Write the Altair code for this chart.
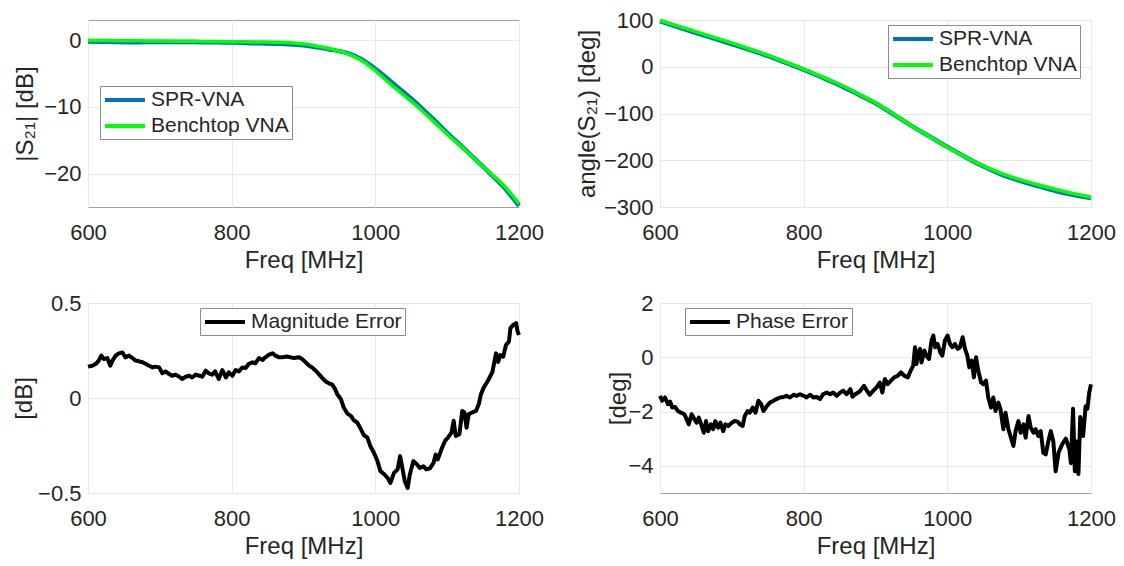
import altair as alt
import pandas as pd

FONT = "Liberation Sans"
TXT = "#262626"

# ---------------- data ----------------
mag_freq = [600, 620, 640, 660, 680, 700, 720, 740, 760, 780, 800, 820, 840, 860, 880,
            900, 910, 920, 930, 940, 950, 960, 970, 980, 990, 1000, 1020, 1040, 1060, 1080,
            1100, 1120, 1140, 1160, 1180, 1200]
mag_bench = [-0.05, -0.07, -0.09, -0.11, -0.13, -0.15, -0.17, -0.19, -0.21, -0.23, -0.25,
             -0.27, -0.29, -0.32, -0.4, -0.6, -0.75, -0.95, -1.15, -1.4, -1.65, -2.0, -2.45,
             -3.0, -3.75, -4.6, -6.5, -8.3, -10.1, -12.1, -14.1, -16.0, -18.0, -19.9, -21.9,
             -24.5]
mag_spr = [-0.22, -0.27, -0.31, -0.32, -0.31, -0.31, -0.29, -0.3, -0.33, -0.35, -0.37,
           -0.43, -0.49, -0.55, -0.62, -0.79, -0.92, -1.08, -1.26, -1.47, -1.66, -1.92, -2.33,
           -2.84, -3.54, -4.3, -6.07, -7.86, -9.74, -11.78, -13.89, -15.9, -17.95, -20.0,
           -22.17, -24.83]

phase_freq = [600, 625, 650, 675, 700, 725, 750, 775, 800, 825, 850, 875, 900, 925, 950,
              975, 1000, 1025, 1050, 1075, 1100, 1125, 1150, 1175, 1200]
phase_bench = [99, 87, 75, 63, 51, 38, 25, 10, -5, -21, -38, -57, -77, -101, -126, -149,
               -172, -193, -212, -228, -241, -252, -262, -271, -279]
phase_spr = [97.6, 85, 72.6, 60.5, 48.6, 36, 23.4, 8.6, -6.4, -22.4, -39.3, -58.3, -78.1,
             -101.7, -126.5, -148.9, -171.4, -192.9, -213, -230.3, -243.5, -254.7, -265.5,
             -274, -281]

magerr_freq = [600, 606, 611, 615, 618.5, 622, 627, 631, 634, 638.5, 643, 648, 652, 657, 662,
               666, 671, 676, 680, 685, 690, 694, 699, 703.5, 708, 713, 717, 722, 727, 731,
               736, 741, 745, 750, 755, 759, 764, 768, 773, 777, 782, 787, 792, 796, 801,
               805.5, 810, 815, 819.5, 824, 829, 833, 838, 843, 847, 852, 857, 861, 866, 870,
               877, 887, 894, 898, 903, 908, 912, 917, 922, 926, 931, 935.5, 940, 944, 947,
               952, 956, 961, 966, 970, 975, 980, 984, 989, 993, 998, 1003, 1007, 1012, 1017,
               1021, 1026, 1031, 1034.5, 1038, 1041, 1045, 1048, 1053, 1058, 1062, 1067, 1071,
               1076, 1081, 1084, 1087, 1092, 1097, 1101, 1106, 1109, 1112, 1117, 1121, 1124,
               1127, 1130, 1135, 1140, 1144, 1147, 1151, 1155, 1158, 1163, 1168, 1171, 1174,
               1178, 1182, 1186, 1188, 1192, 1196, 1198, 1200]
magerr_val = [0.165, 0.17, 0.18, 0.197, 0.223, 0.205, 0.21, 0.17, 0.197, 0.223, 0.235, 0.24,
              0.214, 0.223, 0.21, 0.197, 0.193, 0.188, 0.18, 0.17, 0.161, 0.165, 0.161, 0.13,
              0.14, 0.126, 0.117, 0.123, 0.112, 0.1, 0.112, 0.117, 0.108, 0.123, 0.117, 0.112,
              0.144, 0.13, 0.123, 0.14, 0.1, 0.147, 0.108, 0.135, 0.117, 0.147, 0.14, 0.161,
              0.158, 0.18, 0.188, 0.183, 0.21, 0.2, 0.214, 0.228, 0.235, 0.223, 0.214, 0.215,
              0.218, 0.21, 0.214, 0.205, 0.188, 0.17, 0.161, 0.144, 0.123, 0.105, 0.087, 0.077,
              0.07, 0.047, 0.02, -0.006, -0.05, -0.082, -0.094, -0.117, -0.13, -0.165, -0.195,
              -0.209, -0.253, -0.288, -0.332, -0.385, -0.4, -0.42, -0.447, -0.394, -0.376,
              -0.306, -0.376, -0.438, -0.473, -0.403, -0.332, -0.35, -0.368, -0.359, -0.376,
              -0.37, -0.341, -0.297, -0.323, -0.27, -0.226, -0.209, -0.182, -0.12, -0.2,
              -0.191, -0.068, -0.076, -0.156, -0.085, -0.076, -0.068, -0.033, 0.02, 0.056,
              0.08, 0.1, 0.138, 0.235, 0.19, 0.226, 0.217, 0.28, 0.297, 0.367, 0.385, 0.394,
              0.35, 0.332]

pherr_freq = [600, 603, 607, 611, 614, 617, 621, 625, 629, 634, 637, 640, 644, 648, 651, 654,
              658, 661, 664, 667, 671, 674, 677, 681, 684, 688, 691, 695, 700, 704, 708, 711,
              715, 718, 722, 725, 729, 733, 737, 741, 744, 749, 753, 758, 762, 767, 772, 776,
              781, 786, 790, 795, 800, 804, 809, 813.5, 818, 823, 827, 832, 837, 841, 846, 851,
              855, 860, 865, 868, 872, 878, 884, 888, 892, 897, 901.5, 906, 909.5, 913, 917,
              921.5, 926, 931, 935.5, 940, 945, 949, 952.5, 955, 957, 959.5, 962, 964, 968, 971,
              974.5, 978, 980.5, 983, 986.5, 990, 993, 996.7, 1000.4, 1003.7, 1007, 1010.6,
              1014.4, 1017.6, 1021.3, 1024.6, 1027.8, 1030.6, 1034, 1037, 1040, 1043, 1047, 1050,
              1053.8, 1057, 1060.8, 1064, 1067, 1071, 1074, 1078, 1081, 1085, 1088.6, 1092, 1095,
              1099, 1102, 1106, 1109, 1113, 1116, 1120, 1123, 1126.6, 1130, 1133.6, 1137, 1140.6,
              1144, 1147.5, 1150.8, 1155, 1160, 1165, 1170, 1172, 1175, 1177.5, 1180, 1182.5,
              1185, 1189, 1192.5, 1195, 1197.5, 1200]
pherr_val = [-1.42, -1.6, -1.48, -1.73, -1.63, -1.85, -1.83, -1.98, -2.04, -2.1, -2.28, -2.47,
             -2.1, -2.28, -2.41, -2.22, -2.53, -2.78, -2.35, -2.72, -2.47, -2.65, -2.35, -2.59,
             -2.41, -2.72, -2.47, -2.53, -2.41, -2.35, -2.37, -2.47, -2.53, -2.16, -1.98, -2.04,
             -1.85, -2.04, -1.6, -1.73, -1.98, -1.79, -1.67, -1.6, -1.54, -1.48, -1.46, -1.42,
             -1.48, -1.38, -1.42, -1.36, -1.42, -1.48, -1.38, -1.48, -1.46, -1.54, -1.36, -1.3,
             -1.36, -1.3, -1.42, -1.3, -1.23, -1.36, -1.17, -1.45, -1.36, -1.26, -1.05, -1.23,
             -1.38, -1.23, -1.11, -0.93, -1.3, -0.8, -0.99, -0.86, -0.74, -0.68, -0.56, -0.68,
             -0.74, -0.49, -0.31, 0.37, -0.25, 0.19, 0.31, -0.19, 0.25, 0.06, -0.06, 0.62, 0.8,
             0.37, 0.49, 0.19, 0.06, 0.62, 0.8, 0.49, 0.37, 0.49, 0.31, 0.37, 0.74, 0.31, 0.06,
             -0.37, -0.12, -0.74, 0.0, -0.49, -0.93, -0.99, -0.86, -1.48, -1.85, -1.48, -1.98,
             -1.67, -1.91, -2.65, -2.04, -2.65, -2.96, -3.27, -2.72, -2.35, -2.78, -2.47, -2.96,
             -2.16, -2.59, -2.78, -2.65, -2.9, -2.72, -3.52, -3.58, -3.09, -2.72, -3.09, -4.2,
             -3.5, -3.2, -3.0, -3.4, -3.9, -1.9, -4.2, -3.1, -4.3, -2.2, -2.9, -1.8, -1.9, -1.3,
             -1.0]

freq_ticks = [600, 800, 1000, 1200]
SERIES = ["SPR-VNA", "Benchtop VNA"]
COLORS = ["#0072BD", "#00FF00"]

W, H_TOP, H_BOT = 431, 187, 190


def legend(x, y):
    return alt.Legend(
        title=None, orient="none", legendX=x, legendY=y,
        symbolType="M-1,0H3.44", symbolSize=324, symbolStrokeWidth=4,
        labelFont=FONT, labelFontSize=21, labelColor=TXT, labelOffset=26,
        padding=3, rowPadding=5, strokeColor="#8c8c8c", fillColor="white",
        cornerRadius=0, symbolOpacity=1,
    )


def xenc():
    return alt.X(
        "f:Q",
        scale=alt.Scale(domain=[600, 1200], nice=False, zero=False),
        axis=alt.Axis(values=freq_ticks, title="Freq [MHz]", format="d",
                      labelPadding=15, titlePadding=5, labelFlush=False),
    )


def yenc(dom, vals, title, ext, fmt):
    return alt.Y(
        "v:Q",
        scale=alt.Scale(domain=dom, nice=False, zero=False),
        axis=alt.Axis(values=vals, title=title, format=fmt, minExtent=ext,
                      maxExtent=ext, titlePadding=0, labelPadding=7),
    )


def pair_chart(freq, spr, bench, dom, vals, title, ext, lx, ly):
    df = pd.DataFrame({
        "f": freq + freq,
        "v": spr + bench,
        "series": [SERIES[0]] * len(freq) + [SERIES[1]] * len(freq),
    })
    color = alt.Color("series:N", scale=alt.Scale(domain=SERIES, range=COLORS),
                      legend=legend(lx, ly))
    base = alt.Chart(df).encode(x=xenc(), y=yenc(dom, vals, title, ext, "d"), color=color)
    blue = base.transform_filter(alt.datum.series == SERIES[0]).mark_line(
        strokeWidth=4.5, interpolate="monotone")
    green = base.transform_filter(alt.datum.series == SERIES[1]).mark_line(
        strokeWidth=3.5, interpolate="monotone")
    return alt.layer(blue, green).properties(width=W, height=H_TOP)


def err_chart(freq, vals_, name, dom, vals, title, ext, lx, ly, fmt):
    df = pd.DataFrame({"f": freq, "v": vals_, "series": [name] * len(freq)})
    color = alt.Color("series:N", scale=alt.Scale(domain=[name], range=["#000000"]),
                      legend=legend(lx, ly))
    return alt.Chart(df).mark_line(strokeWidth=4, strokeJoin="round").encode(
        x=xenc(), y=yenc(dom, vals, title, ext, fmt), color=color
    ).properties(width=W, height=H_BOT)


tl = pair_chart(mag_freq, mag_spr, mag_bench, [-25, 3], [-20, -10, 0],
                "|S₂₁|  [dB]", 51, 12, 66)
tr = pair_chart(phase_freq, phase_spr, phase_bench, [-300, 100],
                [-300, -200, -100, 0, 100], "angle(S₂₁)  [deg]", 61, 228, 5)
bl = err_chart(magerr_freq, magerr_val, "Magnitude Error", [-0.5, 0.5], [-0.5, 0, 0.5],
               "[dB]", 52, 112, 5, ".1~f")
br = err_chart(pherr_freq, pherr_val, "Phase Error", [-5, 2], [-4, -2, 0, 2],
               "[deg]", 30, 25, 5, "d")

chart = alt.concat(
    tl, tr, bl, br, columns=2, spacing={"row": 18, "column": 30}
).resolve_scale(
    x="independent", y="independent", color="independent"
).resolve_legend(
    color="independent"
).properties(
    padding={"left": 3, "top": 0, "right": 0, "bottom": 0},
    background="white",
).configure_view(
    stroke="#a0a0a0", strokeWidth=1
).configure_axis(
    labelFont=FONT, titleFont=FONT, labelFontSize=22, titleFontSize=24,
    labelColor=TXT, titleColor=TXT, titleFontWeight="normal",
    domain=False, ticks=False, gridColor="#e8e8e8", gridWidth=1,
)

chart.save("out.html", embed_options={"renderer": "svg", "actions": False})
